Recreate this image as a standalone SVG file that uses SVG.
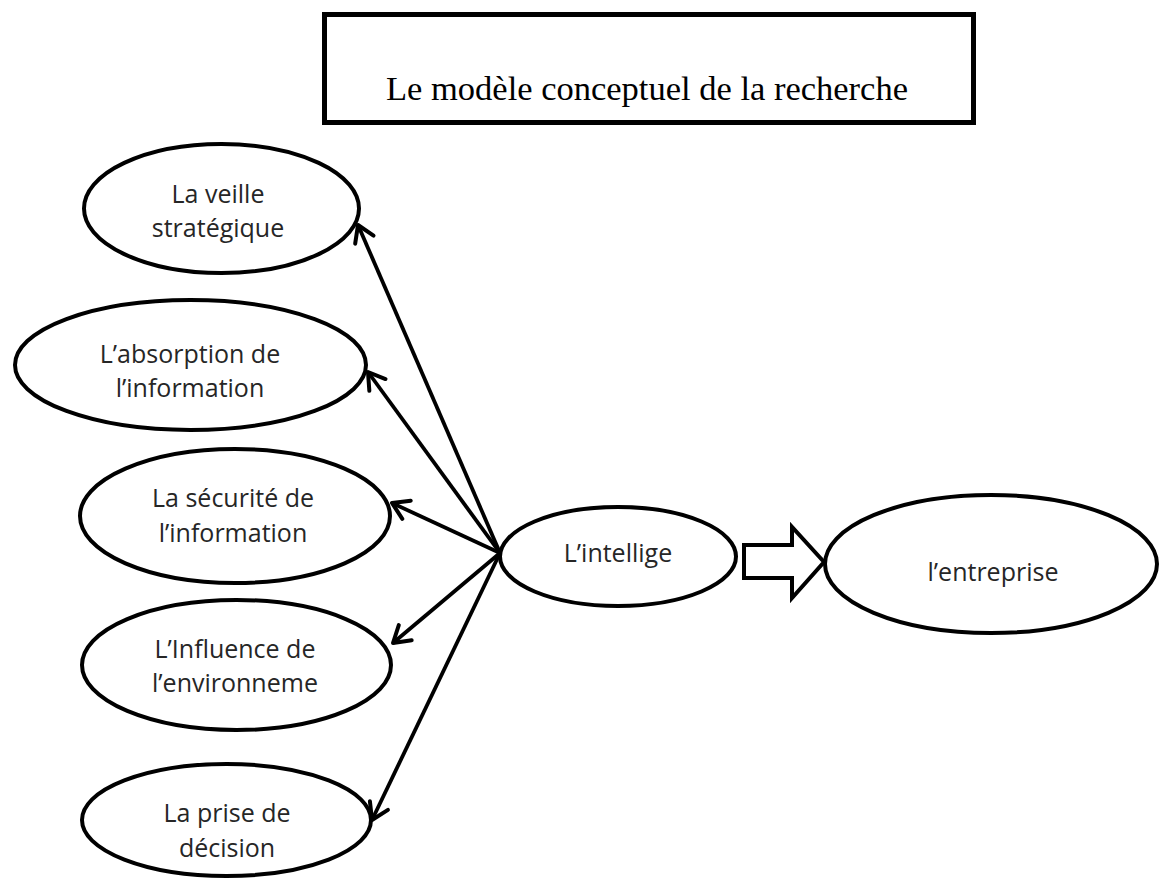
<svg xmlns="http://www.w3.org/2000/svg" width="1161" height="883" viewBox="0 0 1161 883">
<style>
.node ellipse{fill:#fff;stroke:#000;stroke-width:4}
.lbl{font-family:"Open Sans","Noto Sans",sans-serif;font-size:25px;fill:#262626;text-anchor:middle}
.title{font-family:"Liberation Serif","Times New Roman",serif;font-size:34.5px;fill:#000}
.conn line{stroke:#000;stroke-width:3.8;fill:none;marker-end:url(#vhead)}
</style>
<defs>
<marker id="vhead" markerUnits="userSpaceOnUse" markerWidth="34" markerHeight="34" viewBox="-22 -17 34 34" refX="0" refY="0" orient="auto">
<path d="M-16,-10 L0,0 L-16,10" fill="none" stroke="#000" stroke-width="4" stroke-linecap="round" stroke-linejoin="round"/>
</marker>
</defs>
<rect width="1161" height="883" fill="#fff"/>
<g id="title">
<rect x="324.5" y="14.5" width="649" height="108" fill="#fff" stroke="#000" stroke-width="5"/>
<text class="title" x="386" y="100">Le modèle conceptuel de la recherche</text>
</g>
<g class="conn" id="connectors">
<line x1="500" y1="553" x2="358" y2="225"/>
<line x1="500" y1="553" x2="368" y2="372"/>
<line x1="500" y1="553" x2="392" y2="503"/>
<line x1="500" y1="553" x2="393" y2="643"/>
<line x1="500" y1="553" x2="372" y2="820"/>
<path d="M744,545 H792 V527 L824,562 L792,598 V578 H744 Z" fill="#fff" stroke="#000" stroke-width="4" stroke-linejoin="miter"/>
</g>
<g class="node" id="veille">
<ellipse cx="221.5" cy="208.5" rx="137.5" ry="64.5"/>
<text class="lbl" x="218" y="203">La veille</text>
<text class="lbl" x="218" y="237">stratégique</text>
</g>
<g class="node" id="absorption">
<ellipse cx="190.5" cy="365" rx="175.5" ry="65"/>
<text class="lbl" x="190" y="363">L’absorption de</text>
<text class="lbl" x="190" y="397">l’information</text>
</g>
<g class="node" id="securite">
<ellipse cx="235" cy="516" rx="155" ry="67"/>
<text class="lbl" x="233" y="507">La sécurité de</text>
<text class="lbl" x="233" y="542">l’information</text>
</g>
<g class="node" id="influence">
<ellipse cx="236.5" cy="665" rx="154.5" ry="65"/>
<text class="lbl" x="235" y="658">L’Influence de</text>
<text class="lbl" x="235" y="692">l’environneme</text>
</g>
<g class="node" id="decision">
<ellipse cx="226.5" cy="820" rx="144.5" ry="56"/>
<text class="lbl" x="227" y="822">La prise de</text>
<text class="lbl" x="227" y="857">décision</text>
</g>
<g class="node" id="intelligence">
<ellipse cx="618" cy="556.5" rx="118" ry="49.5"/>
<text class="lbl" x="618" y="562">L’intellige</text>
</g>
<g class="node" id="entreprise">
<ellipse cx="991" cy="564" rx="166" ry="69"/>
<text class="lbl" x="993" y="581">l’entreprise</text>
</g>
</svg>
